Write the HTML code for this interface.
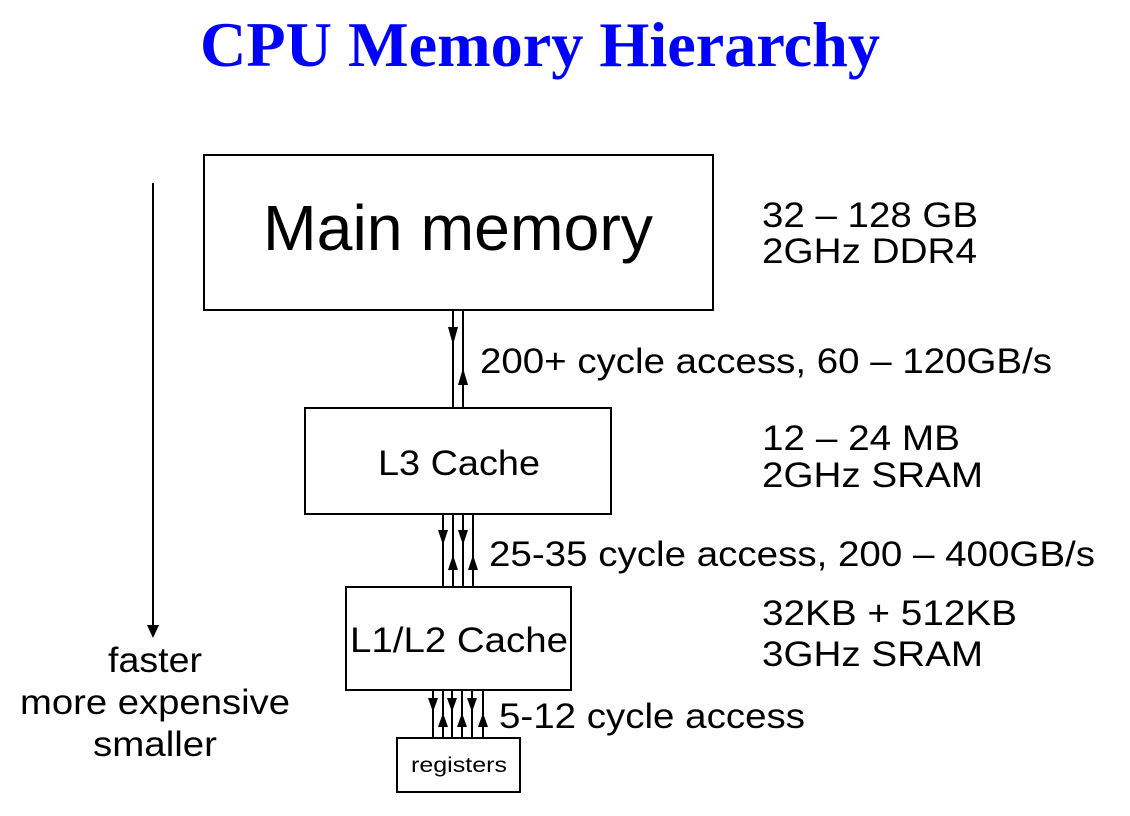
<!DOCTYPE html>
<html><head><meta charset="utf-8"><style>
html,body{margin:0;padding:0;background:#fff;}
svg{display:block;}
text{font-family:"Liberation Sans",sans-serif;fill:#000;}
</style></head><body>
<svg width="1130" height="816" viewBox="0 0 1130 816" xmlns="http://www.w3.org/2000/svg">
<text x="200" y="66" textLength="680" lengthAdjust="spacingAndGlyphs" style="font-family:'Liberation Serif',serif;font-weight:bold;font-size:64px;fill:#0000ff">CPU Memory Hierarchy</text>

<g fill="none" stroke="#000" stroke-width="2">
<rect x="204" y="155" width="509" height="155"/>
<rect x="305" y="408" width="306" height="106"/>
<rect x="346" y="587" width="225" height="103"/>
<rect x="397" y="738" width="123" height="54"/>
<line x1="153" y1="183" x2="153" y2="636"/>
<line x1="453" y1="310" x2="453" y2="408"/>
<line x1="463" y1="310" x2="463" y2="408"/>
<line x1="443" y1="514" x2="443" y2="587"/>
<line x1="453" y1="514" x2="453" y2="587"/>
<line x1="463" y1="514" x2="463" y2="587"/>
<line x1="473" y1="514" x2="473" y2="587"/>
<line x1="433" y1="690" x2="433" y2="738"/>
<line x1="443" y1="690" x2="443" y2="738"/>
<line x1="452" y1="690" x2="452" y2="738"/>
<line x1="462" y1="690" x2="462" y2="738"/>
<line x1="472" y1="690" x2="472" y2="738"/>
<line x1="483" y1="690" x2="483" y2="738"/>
</g>
<g fill="#000">
<path d="M147,625 L153,638 L159,625 z"/>
<path d="M448,327 L453,345 L458,327 z"/>
<path d="M438,530 L443,545 L448,530 z"/>
<path d="M458,530 L463,545 L468,530 z"/>
<path d="M428,698 L433,712 L438,698 z"/>
<path d="M447,698 L452,712 L457,698 z"/>
<path d="M467,698 L472,712 L477,698 z"/>
<path d="M458,385 L463,368 L468,385 z"/>
<path d="M448,570 L453,555 L458,570 z"/>
<path d="M468,570 L473,555 L478,570 z"/>
<path d="M438,727 L443,713 L448,727 z"/>
<path d="M457,727 L462,713 L467,727 z"/>
<path d="M478,727 L483,713 L488,727 z"/>
</g>

<g lengthAdjust="spacingAndGlyphs">
<text x="263" y="250" textLength="390" lengthAdjust="spacingAndGlyphs" style="font-size:64px">Main memory</text>
<text x="378" y="475" textLength="162" lengthAdjust="spacingAndGlyphs" style="font-size:35px">L3 Cache</text>
<text x="350" y="652" textLength="218" lengthAdjust="spacingAndGlyphs" style="font-size:35px">L1/L2 Cache</text>
<text x="411" y="772" textLength="96" lengthAdjust="spacingAndGlyphs" style="font-size:21px">registers</text>
</g>

<g style="font-size:35px">
<text x="480" y="373" textLength="572" lengthAdjust="spacingAndGlyphs">200+ cycle access, 60 – 120GB/s</text>
<text x="489" y="566" textLength="606" lengthAdjust="spacingAndGlyphs">25-35 cycle access, 200 – 400GB/s</text>
<text x="499" y="728" textLength="306" lengthAdjust="spacingAndGlyphs">5-12 cycle access</text>
<text x="762" y="227" textLength="216" lengthAdjust="spacingAndGlyphs">32 – 128 GB</text>
<text x="762" y="263" textLength="215" lengthAdjust="spacingAndGlyphs">2GHz DDR4</text>
<text x="762" y="450" textLength="198" lengthAdjust="spacingAndGlyphs">12 – 24 MB</text>
<text x="762" y="487" textLength="221" lengthAdjust="spacingAndGlyphs">2GHz SRAM</text>
<text x="762" y="625" textLength="255" lengthAdjust="spacingAndGlyphs">32KB + 512KB</text>
<text x="762" y="666" textLength="221" lengthAdjust="spacingAndGlyphs">3GHz SRAM</text>
<text x="108" y="672" textLength="94" lengthAdjust="spacingAndGlyphs">faster</text>
<text x="20" y="714" textLength="270" lengthAdjust="spacingAndGlyphs">more expensive</text>
<text x="93" y="756" textLength="124" lengthAdjust="spacingAndGlyphs">smaller</text>
</g>
</svg>
</body></html>
